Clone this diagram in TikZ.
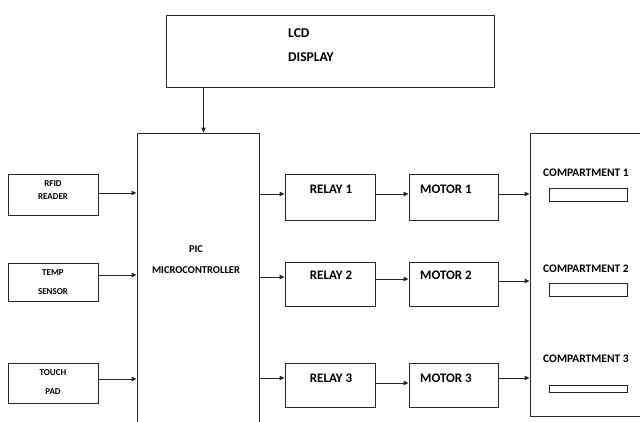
\documentclass[tikz,border=0pt]{standalone}
\usepackage{fontspec}
\setmainfont{Carlito}
\usetikzlibrary{arrows.meta, positioning, calc}

\begin{document}
\begin{tikzpicture}[
  x=1pt, y=-1pt,
  >={Triangle[length=5pt, width=4.5pt]},
  blk/.style={
    draw=black!85,
    line width=0.9pt,
    inner sep=0pt,
  },
  slot/.style={
    draw=black!85,
    line width=0.9pt,
    minimum width=78pt,
    inner sep=0pt,
  },
  lbl/.style={
    font=\fontsize{#1}{#1}\selectfont\bfseries,
    anchor=base,
    inner sep=0pt,
  },
  lbl/.default=12,
  arr/.style={
    ->,
    line width=0.9pt,
    black!85,
  },
]
\useasboundingbox (0,0) rectangle (640,421);

% ============================================================
% LCD DISPLAY (top)
% ============================================================
\node[blk, minimum width=328pt, minimum height=72pt] (lcd) at (330,51) {};
\node[lbl=13.5, anchor=base west] at (288,37) {LCD};
\node[lbl=13.5, anchor=base west] at (288,61) {DISPLAY};

% ============================================================
% PIC MICROCONTROLLER
% ============================================================
\node[blk, minimum width=122pt, minimum height=307pt] (mcu) at (198,286.5) {};
\node[lbl=10.5] at (196,252) {PIC};
\node[lbl=10.5] at (196,273) {MICROCONTROLLER};

% ============================================================
% INPUTS (left)
% ============================================================
\node[blk, minimum width=90pt, minimum height=41pt] (rfid)  at (53,194.5) {};
\node[lbl=9] at (53,186) {RFID};
\node[lbl=9] at (53,199) {READER};

\node[blk, minimum width=90pt, minimum height=38pt] (temp)  at (53,282) {};
\node[lbl=9] at (53,275) {TEMP};
\node[lbl=9] at (53,294) {SENSOR};

\node[blk, minimum width=90pt, minimum height=40pt] (touch) at (53,383) {};
\node[lbl=9] at (53,375) {TOUCH};
\node[lbl=9] at (53,394) {PAD};

% ============================================================
% RELAYS
% ============================================================
\node[blk, minimum width=90pt, minimum height=46pt] (relay1) at (330,197) {};
\node[lbl=13] at (331,193) {RELAY 1};

\node[blk, minimum width=90pt, minimum height=44pt] (relay2) at (330,284) {};
\node[lbl=13] at (331,279) {RELAY 2};

\node[blk, minimum width=90pt, minimum height=44pt] (relay3) at (330,385) {};
\node[lbl=13] at (331,382) {RELAY 3};

% ============================================================
% MOTORS
% ============================================================
\node[blk, minimum width=89pt, minimum height=46pt] (motor1) at (453.5,197) {};
\node[lbl=13] at (446,193) {MOTOR 1};

\node[blk, minimum width=89pt, minimum height=44pt] (motor2) at (453.5,284) {};
\node[lbl=13] at (446,279) {MOTOR 2};

\node[blk, minimum width=89pt, minimum height=44pt] (motor3) at (453.5,385) {};
\node[lbl=13] at (446,382) {MOTOR 3};

% ============================================================
% COMPARTMENTS (right)
% ============================================================
\node[blk, minimum width=130pt, minimum height=283pt] (comp) at (595,274.5) {};

\node[lbl=11.5] at (586,176) {COMPARTMENT 1};
\node[slot, minimum height=13pt] (slot1) at (588,194.5) {};

\node[lbl=11.5] at (586,272) {COMPARTMENT 2};
\node[slot, minimum height=13pt] (slot2) at (588,289.5) {};

\node[lbl=11.5] at (586,362) {COMPARTMENT 3};
\node[slot, minimum height=7pt]  (slot3) at (588,388.5) {};

% ============================================================
% CONNECTORS
% ============================================================
\coordinate (lcdout) at ([xshift=38pt]lcd.south west);
\draw[arr] (lcdout) -- (lcdout |- mcu.north);

\coordinate (rfidout)  at ([yshift=1.5pt]rfid.east);
\coordinate (tempout)  at ([yshift=7pt]temp.east);
\coordinate (touchout) at ([yshift=4pt]touch.east);
\draw[arr] (rfidout)  -- (rfidout  -| mcu.west);
\draw[arr] (tempout)  -- (tempout  -| mcu.west);
\draw[arr] (touchout) -- (touchout -| mcu.west);

\coordinate (r1in) at ([yshift=3pt]relay1.west);
\coordinate (r2in) at ([yshift=7pt]relay2.west);
\coordinate (r3in) at ([yshift=7pt]relay3.west);
\draw[arr] (r1in -| mcu.east) -- (r1in);
\draw[arr] (r2in -| mcu.east) -- (r2in);
\draw[arr] (r3in -| mcu.east) -- (r3in);

\coordinate (m1in) at ([yshift=3pt]motor1.west);
\coordinate (m2in) at ([yshift=5pt]motor2.west);
\coordinate (m3in) at ([yshift=2pt]motor3.west);
\draw[arr] (m1in -| relay1.east) -- (m1in);
\draw[arr] (m2in -| relay2.east) -- (m2in);
\draw[arr] (m3in -| relay3.east) -- (m3in);

\coordinate (m1out) at ([yshift=3pt]motor1.east);
\coordinate (m2out) at ([yshift=3pt]motor2.east);
\coordinate (m3out) at ([yshift=7pt]motor3.east);
\draw[arr] (m1out) -- (m1out -| comp.west);
\draw[arr] (m2out) -- (m2out -| comp.west);
\draw[arr] (m3out) -- (m3out -| comp.west);

\end{tikzpicture}
\end{document}
